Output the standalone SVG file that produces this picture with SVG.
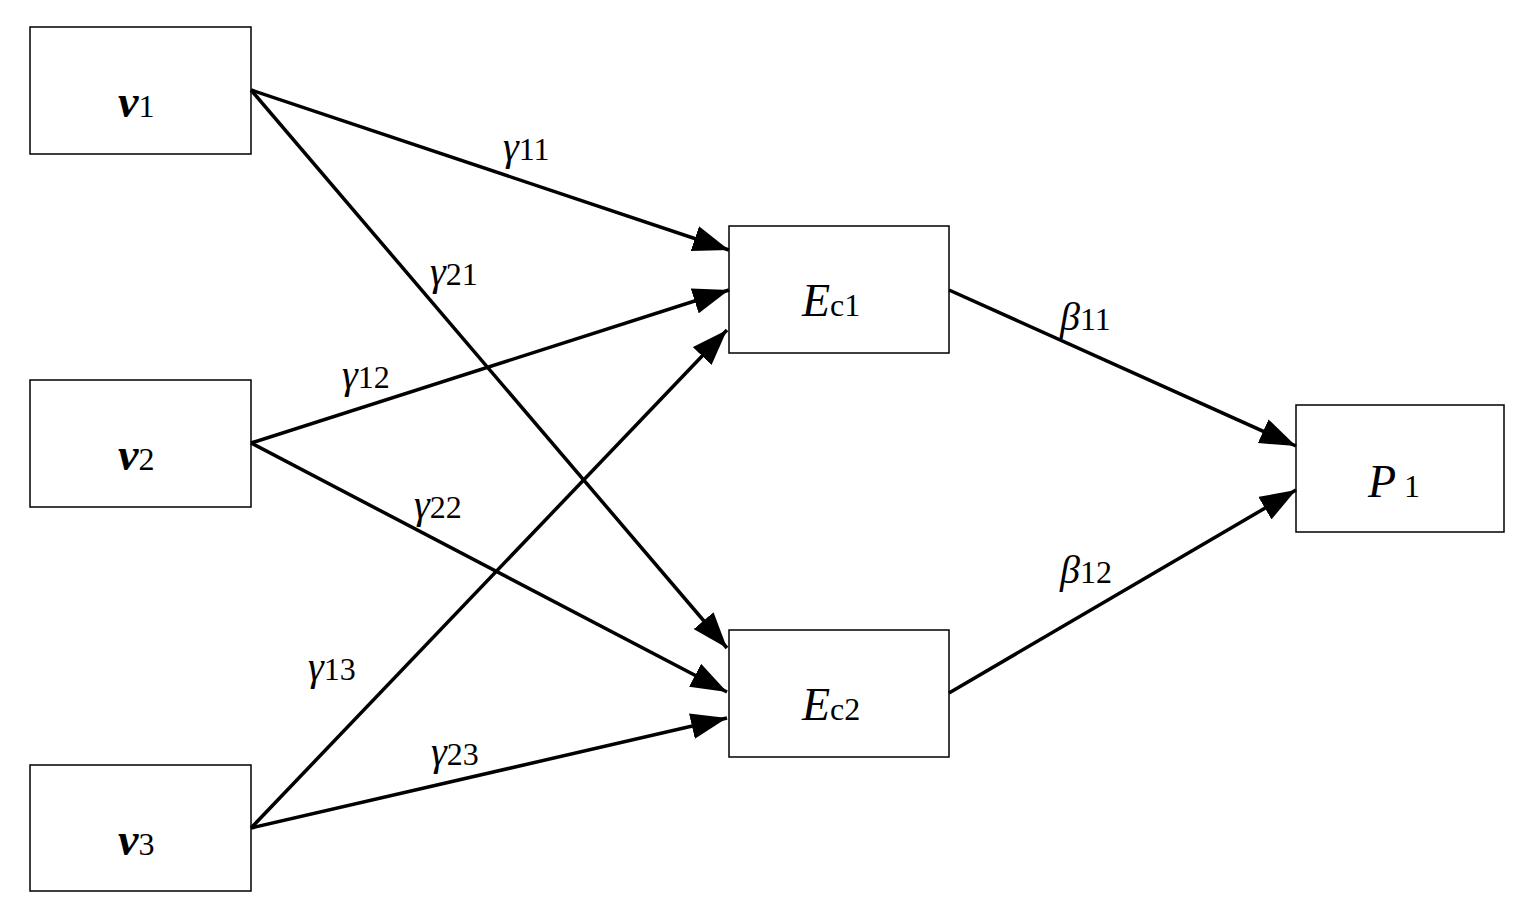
<svg xmlns="http://www.w3.org/2000/svg" width="1535" height="924" viewBox="0 0 1535 924">
<style>
.b{fill:#fff;stroke:#000;stroke-width:1.5}
.t{font-family:"Liberation Serif",serif;font-size:46px;font-style:italic}
.s{font-family:"Liberation Serif",serif;font-size:32px;font-style:normal;font-weight:normal}
.g{font-family:"Liberation Serif",serif;font-size:40px;font-style:italic}
.c line{stroke:#000;stroke-width:3.5;marker-end:url(#a)}
</style>
<defs><marker id="a" markerUnits="userSpaceOnUse" markerWidth="36" markerHeight="26" refX="36" refY="13" orient="auto"><path d="M0,0L36,13L0,26z"/></marker></defs>
<rect width="1535" height="924" fill="#fff"/>
<g id="v1"><rect class="b" x="30" y="27" width="221" height="127"/><text class="t" x="118" y="117" font-weight="bold">v<tspan class="s" font-size="32">1</tspan></text></g>
<g id="v2"><rect class="b" x="30" y="380" width="221" height="127"/><text class="t" x="118" y="470" font-weight="bold">v<tspan class="s">2</tspan></text></g>
<g id="v3"><rect class="b" x="30" y="765" width="221" height="126"/><text class="t" x="118" y="855" font-weight="bold">v<tspan class="s">3</tspan></text></g>
<g id="Ec1"><rect class="b" x="729" y="226" width="220" height="127"/><text class="t" x="802" y="316">E<tspan class="s">c1</tspan></text></g>
<g id="Ec2"><rect class="b" x="729" y="630" width="220" height="127"/><text class="t" x="802" y="720">E<tspan class="s">c2</tspan></text></g>
<g id="P1"><rect class="b" x="1296" y="405" width="208" height="127"/><text class="t" x="1368" y="497">P<tspan class="s" dx="8">1</tspan></text></g>
<g class="c">
<line x1="251" y1="90" x2="729" y2="250"/>
<line x1="251" y1="90" x2="727" y2="648"/>
<line x1="251" y1="443" x2="729" y2="290"/>
<line x1="251" y1="443" x2="727" y2="692"/>
<line x1="251" y1="828" x2="727" y2="330"/>
<line x1="251" y1="828" x2="727" y2="718"/>
<line x1="949" y1="290" x2="1296" y2="446"/>
<line x1="949" y1="693" x2="1296" y2="490"/>
</g>
<g>
<text class="g" x="503" y="160">γ<tspan class="s">11</tspan></text>
<text class="g" x="430" y="285">γ<tspan class="s">21</tspan></text>
<text class="g" x="342" y="388">γ<tspan class="s">12</tspan></text>
<text class="g" x="414" y="518">γ<tspan class="s">22</tspan></text>
<text class="g" x="308" y="680">γ<tspan class="s">13</tspan></text>
<text class="g" x="431" y="765">γ<tspan class="s">23</tspan></text>
<text class="g" x="1060" y="330">β<tspan class="s">11</tspan></text>
<text class="g" x="1060" y="583">β<tspan class="s">12</tspan></text>
</g>
</svg>
